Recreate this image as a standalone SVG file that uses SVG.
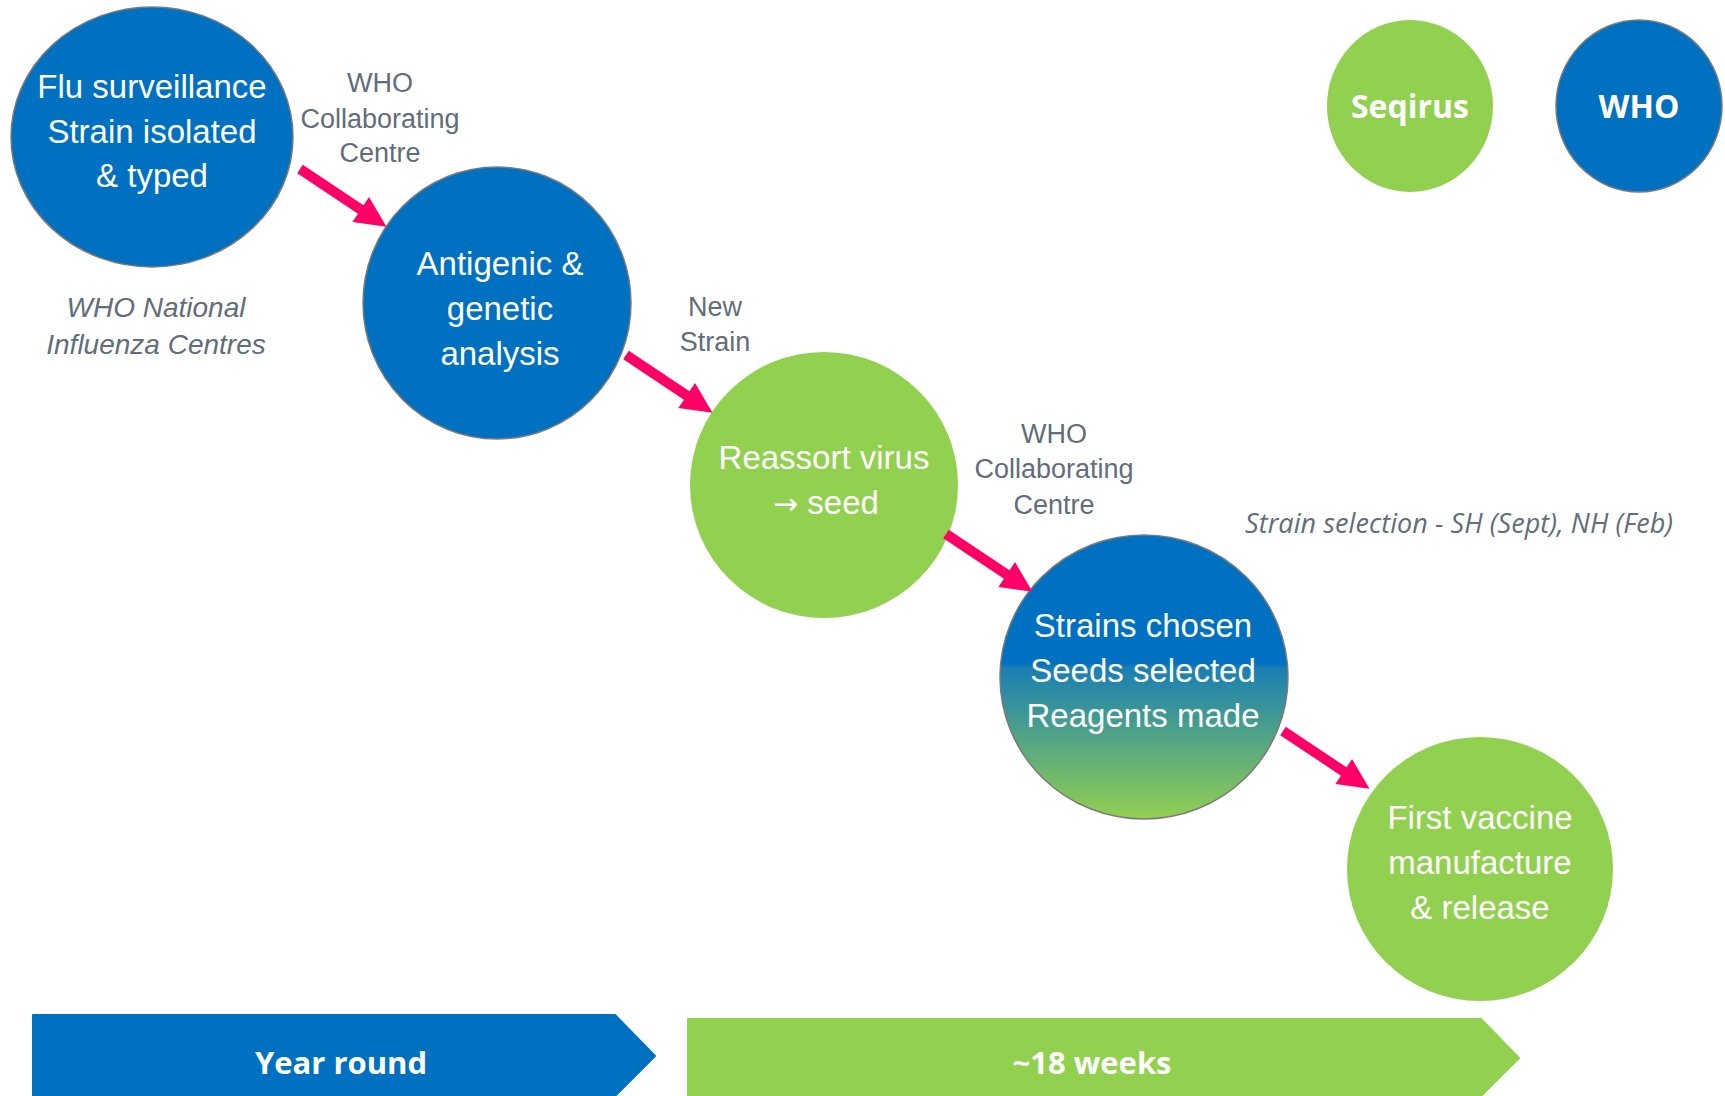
<svg xmlns="http://www.w3.org/2000/svg" xmlns:xlink="http://www.w3.org/1999/xlink" width="1725" height="1096" viewBox="0 0 1725 1096">
<style>
.blue{fill:#0070C0;stroke:#7a7a7a;stroke-width:1.5}
.green{fill:#92D050}
.ct{font-family:"Liberation Sans",Arial,sans-serif;font-size:33px;fill:#ffffff;text-anchor:middle}
.lbl{font-family:"Liberation Sans",Arial,sans-serif;font-size:27px;fill:#626D7A;text-anchor:middle}
.ital{font-family:"Liberation Sans",Arial,sans-serif;font-size:28px;font-style:italic;fill:#626D7A;text-anchor:middle}
.bold{font-family:"Open Sans",sans-serif;font-weight:bold;fill:#ffffff;text-anchor:middle}
.arrow{fill:#FF0066}
</style>
<defs>
<linearGradient id="grad4" gradientUnits="userSpaceOnUse" x1="0" y1="535" x2="0" y2="819">
<stop offset="0" stop-color="#0070C0"/>
<stop offset="0.45" stop-color="#0070C0"/>
<stop offset="0.47" stop-color="#1A7FB2"/>
<stop offset="1" stop-color="#92D050"/>
</linearGradient>
<polygon id="arr" points="0,-5 73,-5 73,-15 104,0 73,15 73,5 0,5"/>
</defs>

<g id="node-surveillance">
<ellipse class="blue" cx="152" cy="137" rx="141" ry="130"/>
<text class="ct" x="152" y="98">Flu surveillance</text>
<text class="ct" x="152" y="143">Strain isolated</text>
<text class="ct" x="152" y="187">&amp; typed</text>
</g>

<g id="node-antigenic">
<ellipse class="blue" cx="497" cy="303" rx="134" ry="136"/>
<text class="ct" x="500" y="275">Antigenic &amp;</text>
<text class="ct" x="500" y="320">genetic</text>
<text class="ct" x="500" y="365">analysis</text>
</g>

<g id="node-reassort">
<ellipse class="green" cx="824" cy="485" rx="134" ry="133"/>
<text class="ct" x="824" y="469">Reassort virus</text>
<text class="ct" x="826" y="514"><tspan font-family="DejaVu Sans, sans-serif" font-size="30">→</tspan> seed</text>
</g>

<g id="node-strains">
<ellipse cx="1144" cy="677" rx="144" ry="142" fill="url(#grad4)" stroke="#7a7a7a" stroke-width="1.5"/>
<text class="ct" x="1143" y="637">Strains chosen</text>
<text class="ct" x="1143" y="682">Seeds selected</text>
<text class="ct" x="1143" y="727">Reagents made</text>
</g>

<g id="node-vaccine">
<ellipse class="green" cx="1480" cy="869" rx="133" ry="132"/>
<text class="ct" x="1480" y="829">First vaccine</text>
<text class="ct" x="1480" y="874">manufacture</text>
<text class="ct" x="1480" y="919">&amp; release</text>
</g>

<g id="legend-seqirus">
<ellipse class="green" cx="1410" cy="106" rx="83" ry="86"/>
<text class="bold" x="1410" y="118" font-size="32">Seqirus</text>
</g>

<g id="legend-who">
<ellipse class="blue" cx="1639" cy="106" rx="83" ry="86"/>
<text class="bold" x="1639" y="118" font-size="32">WHO</text>
</g>

<g id="labels">
<text class="lbl" x="380" y="92">WHO</text>
<text class="lbl" x="380" y="128">Collaborating</text>
<text class="lbl" x="380" y="162">Centre</text>
<text class="ital" x="156" y="317">WHO National</text>
<text class="ital" x="156" y="354">Influenza Centres</text>
<text class="lbl" x="715" y="316">New</text>
<text class="lbl" x="715" y="351">Strain</text>
<text class="lbl" x="1054" y="443">WHO</text>
<text class="lbl" x="1054" y="478">Collaborating</text>
<text class="lbl" x="1054" y="514">Centre</text>
<text x="1245" y="533" font-family="Open Sans, sans-serif" font-style="italic" font-size="27" fill="#626D7A" textLength="428">Strain selection - SH (Sept), NH (Feb)</text>
</g>

<g id="connectors">
<use xlink:href="#arr" class="arrow" transform="translate(300,169) rotate(33.7)"/>
<use xlink:href="#arr" class="arrow" transform="translate(626,355) rotate(33.7)"/>
<use xlink:href="#arr" class="arrow" transform="translate(946,534) rotate(33.7)"/>
<use xlink:href="#arr" class="arrow" transform="translate(1283,731) rotate(33.7)"/>
</g>

<g id="timeline-year-round">
<path d="M33,1015 H615 L655,1056 L614,1097 H33 Z" fill="#0070C0" stroke="#0070C0" stroke-width="2" stroke-linejoin="round"/>
<text class="bold" x="341" y="1074" font-size="31">Year round</text>
</g>

<g id="timeline-18-weeks">
<path d="M688,1019 H1481 L1519,1058 L1480,1097 H688 Z" fill="#92D050" stroke="#92D050" stroke-width="2" stroke-linejoin="round"/>
<text class="bold" x="1092" y="1074" font-size="31">~18 weeks</text>
</g>
</svg>
